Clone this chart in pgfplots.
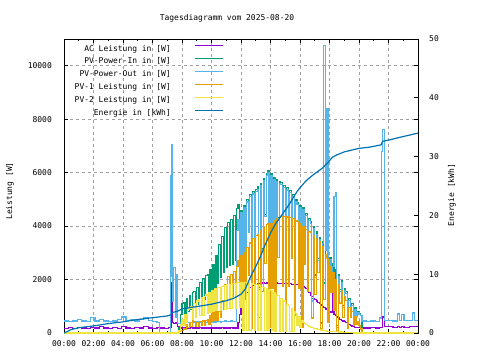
\documentclass[border=0pt]{standalone}
\usepackage{pgfplots}
\pgfplotsset{compat=1.18}
\usepackage{pgfplotstable}
\usepackage{fontspec}
\setmainfont{DejaVu Sans Mono}
\definecolor{cAC}{HTML}{9400D3}
\definecolor{cIN}{HTML}{009E73}
\definecolor{cOUT}{HTML}{56B4E9}
\definecolor{cPVa}{HTML}{E69F00}
\definecolor{cPVb}{HTML}{F0E442}
\definecolor{cE}{HTML}{0072B2}
\definecolor{cGrid}{HTML}{A0A0A0}

\pgfplotstableread{
t ac pin pout pv1 pv2
0.0 180 0 450 0 0
0.3 200 0 420 0 0
0.6 180 0 450 0 0
0.9 220 0 500 0 0
1.2 190 0 450 0 0
1.5 180 0 420 0 0
1.8 200 0 580 0 0
2.1 190 0 450 0 0
2.4 230 0 500 0 0
2.7 190 0 450 0 0
3.0 180 0 420 0 0
3.3 200 0 450 0 0
3.6 180 0 520 0 0
3.9 230 0 600 0 0
4.2 190 0 460 0 0
4.5 180 0 500 0 0
4.8 200 0 450 0 0
5.1 190 0 500 0 0
5.4 230 0 560 0 0
5.7 190 0 460 0 0
6.0 180 0 420 0 0
6.3 200 0 380 0 0
6.5 190 0 0 0 0
6.8 180 0 0 0 0
7.1 200 0 0 0 0
7.2 200 0 2100 0 0
7.25 300 0 5900 0 0
7.3 1900 0 7050 0 0
7.35 400 0 1200 0 0
7.45 350 0 2450 0 0
7.55 400 0 600 0 0
7.6 350 0 2200 0 0
7.7 250 0 350 0 0
7.8 200 200 350 50 100
7.9 190 700 380 80 300
8.0 200 1100 400 100 500
8.1 190 1150 420 150 300
8.2 190 750 400 120 700
8.3 200 1300 420 300 400
8.4 190 810 400 210 870
8.5 190 1400 380 400 930
8.6 200 870 400 250 1000
8.7 190 1500 420 450 525
8.8 190 1550 400 420 1100
8.9 200 970 400 240 575
9.0 190 1700 420 400 1200
9.1 190 1070 400 250 1240
9.2 200 1880 380 430 640
9.3 190 1180 400 270 1320
9.4 190 2050 420 450 675
9.5 200 1260 400 275 1380
9.6 190 2150 400 480 1420
9.7 190 2200 420 500 725
9.8 200 1380 400 330 1500
9.9 190 2380 420 650 775
10.0 190 1470 400 420 1600
10.1 200 2550 420 750 810
10.2 190 1620 400 470 1650
10.3 190 2900 450 800 835
10.4 200 1860 420 470 1690
10.5 190 3300 420 800 1700
10.6 190 2070 400 570 860
10.7 200 3600 420 1200 1740
10.8 190 2280 420 900 1760
10.9 190 3950 450 1800 890
11.0 200 2460 420 1200 1800
11.1 190 4150 420 2100 905
11.2 190 2520 420 1290 1820
11.3 200 4250 450 2200 915
11.4 190 2580 420 1350 1840
11.5 190 4400 420 2300 1850
11.6 200 2700 430 1440 930
11.7 190 4650 3850 2500 1880
11.8 400 4800 4230 2700 1890
11.9 700 2900 1500 1700 950
12.0 900 4580 4500 2900 1900
12.1 1100 1460 1380 440 95
12.2 1300 4780 4700 3000 1900
12.3 1400 2720 2640 1240 1890
12.4 1500 4980 4900 3200 95
12.5 1600 3830 3750 2145 1880
12.6 1700 5180 5100 3370 95
12.7 1750 575 515 170 1850
12.8 1780 5280 5200 3550 1830
12.9 1800 2970 2890 1440 90
13.0 1820 5380 5300 3650 1800
13.1 1850 5460 5380 3700 90
13.2 1850 1715 1635 570 1760
13.3 1860 5580 5500 3850 85
13.4 1870 3160 3080 1560 1710
13.5 1870 5780 5700 3950 1700
13.6 1860 4430 4350 2600 85
13.7 1870 5980 5900 4050 1650
13.8 1880 6080 6000 4100 80
13.9 1870 655 595 205 1610
14.0 1860 5980 5900 4110 1600
14.1 1850 3300 3220 1660 80
14.2 1850 5830 5750 4200 1520
14.3 1860 1790 1710 640 75
14.4 1870 5730 5650 4300 1440
14.5 1860 4320 4240 2810 1400
14.6 1850 5680 5600 4340 70
14.7 1850 5630 5550 4350 1300
14.8 1840 3105 3025 1740 60
14.9 1850 5530 5450 4350 1200
15.0 1840 600 540 220 60
15.1 1850 5430 5350 4340 1080
15.2 1840 2995 2915 1730 1020
15.3 1840 5330 5250 4320 50
15.4 1830 3940 3860 2800 920
15.5 1830 5180 5100 4280 45
15.6 1820 1580 1500 640 800
15.7 1820 4980 4900 4220 730
15.8 1810 4880 4800 4180 265
15.9 1810 2690 2610 1660 600
16.0 1800 4780 4700 4080 210
16.1 1780 525 465 200 460
16.2 1750 4680 4600 3970 400
16.3 1700 3455 3375 2550 350
16.4 1650 4480 4400 3880 310
16.5 1550 2445 2365 1540 270
16.6 1500 4280 4200 3800 250
16.7 1420 4180 4100 3780 220
16.8 1350 1280 1200 560 200
16.9 1300 3980 3900 3650 180
17.0 1250 2170 2090 1440 170
17.1 1200 3780 3700 3550 150
17.2 1150 2780 2700 2260 130
17.3 1100 3580 3500 3420 120
17.4 1050 400 345 170 110
17.5 1000 3430 3350 3250 100
17.6 950 1870 10750 1240 90
17.7 900 3180 3100 2950 80
17.8 870 3080 8400 2800 70
17.9 830 935 855 400 65
18.0 800 2830 2750 2470 60
18.1 760 2030 1950 1530 55
18.2 1700 2580 2500 2250 50
18.3 680 1400 5100 840 50
18.4 640 2380 5240 2000 45
18.5 600 280 220 95 45
18.6 560 2180 2100 1800 40
18.7 520 1620 1540 1120 40
18.8 480 1980 1900 1600 35
18.9 450 1040 960 590 30
19.0 420 1680 1600 1350 25
19.1 380 1560 1480 1230 20
19.2 350 470 405 165 20
19.3 320 1300 1230 970 15
19.4 290 920 850 570 10
19.5 260 1110 1040 790 5
19.6 240 590 520 280 0
19.7 220 940 880 600 0
19.8 210 670 610 330 0
19.9 200 800 750 410 0
20.0 200 740 700 280 0
20.1 190 660 640 150 0
20.2 190 0 450 0 0
20.5 190 0 420 0 0
20.8 200 0 450 0 0
21.1 190 0 430 0 0
21.4 200 0 560 0 0
21.55 200 0 6800 0 0
21.62 600 0 7600 0 0
21.7 230 0 480 0 0
22.0 230 0 470 0 0
22.3 220 0 450 0 0
22.6 230 0 710 0 0
22.75 220 0 480 0 0
22.9 230 0 700 0 0
23.05 220 0 470 0 0
23.4 230 0 460 0 0
23.6 240 0 750 0 0
23.75 230 0 470 0 0
24.0 230 0 470 0 0
}\pdata

\pgfplotstableread{
t e
0 0
0.5 0.6
1 0.9
2 1.2
3 1.6
4 1.9
5 2.3
6 2.6
7 2.9
7.25 3.1
7.35 3.5
7.7 3.7
8 4.1
9 4.5
10 4.9
11 5.5
11.5 5.9
12 6.6
12.3 7.5
12.6 9.3
13 11.3
13.3 12.9
13.6 14.8
14 17.0
14.3 18.4
14.6 19.5
15 20.9
15.3 22.0
15.6 23.3
15.9 24.4
16.2 25.3
16.5 26.1
17 27.1
17.5 28.0
17.9 29.0
18.2 29.9
18.5 30.3
19 30.8
19.5 31.1
20 31.4
20.7 31.6
21.5 32.0
21.6 32.6
22 32.8
22.8 33.3
23.5 33.7
24 34.0
}\edata

\begin{document}
\begin{tikzpicture}[x=1bp,y=1bp,font=\fontsize{8}{9.6}\selectfont]
\path[use as bounding box] (0,0) rectangle (480,360);
\begin{axis}[
  at={(64bp,27bp)}, anchor=south west,
  scale only axis, width=354bp, height=294bp,
  xmin=0, xmax=24, ymin=0, ymax=11000,
  scaled y ticks=false,
  xtick={0,2,...,24},
  xticklabels={00:00,02:00,04:00,06:00,08:00,10:00,12:00,14:00,16:00,18:00,20:00,22:00,00:00},
  minor xtick={1,3,...,23},
  ytick={0,2000,4000,6000,8000,10000},
  yticklabels={0,2000,4000,6000,8000,10000},
  tick align=inside,
  major tick length=4bp, minor tick length=2bp,
  every tick/.style={black, line width=0.8bp},
  axis line style={black, line width=0.8bp},
  xmajorgrids, ymajorgrids,
  major grid style={cGrid, dash pattern=on 3bp off 3bp, line width=0.8bp},
  xticklabel style={inner sep=0pt, yshift=-7.5bp},
  yticklabel style={inner sep=0pt, xshift=-12bp},
  every tick label/.append style={font=\fontsize{8}{9.6}\selectfont},
  legend plot pos=right,
  legend cell align=right,
  legend style={at={(0.452,0.980)}, anchor=north east, draw=none, fill=none,
    inner sep=0pt, row sep=5.4bp, /tikz/column sep=24bp,
    nodes={inner sep=0pt, text height=6bp, text depth=1.5bp},
    font=\fontsize{8}{9.6}\selectfont},
  legend image code/.code={\draw[#1, line width=1.1bp] plot coordinates {(0bp,2.9bp) (28bp,2.9bp)};},
  every axis plot/.append style={line width=1.15bp},
]
\addplot[cAC, const plot] table[x=t, y=ac] {\pdata};
\addlegendentry{AC Leistung in [W]}
\addplot[cIN, const plot] table[x=t, y=pin] {\pdata};
\addlegendentry{PV-Power-In in [W]}
\addplot[cOUT, const plot] table[x=t, y=pout] {\pdata};
\addlegendentry{PV-Power-Out in [W]}
\addplot[cPVa, const plot] table[x=t, y=pv1] {\pdata};
\addlegendentry{PV-1 Leistung in [W]}
\addplot[cPVb, const plot] table[x=t, y=pv2] {\pdata};
\addlegendentry{PV-2 Leistung in [W]}
\addlegendimage{cE}
\addlegendentry{Energie in [kWh]}
\end{axis}
\begin{axis}[
  at={(64bp,27bp)}, anchor=south west,
  scale only axis, width=354bp, height=294bp,
  xmin=0, xmax=24, ymin=0, ymax=50,
  axis x line=none, axis y line*=right,
  ytick={0,10,20,30,40,50},
  yticklabels={0,10,20,30,40,50},
  tick align=inside,
  major tick length=4bp,
  every tick/.style={black, line width=0.8bp},
  axis line style={black, line width=0.8bp},
  yticklabel style={inner sep=0pt, xshift=11bp},
  every tick label/.append style={font=\fontsize{8}{9.6}\selectfont},
]
\addplot[cE, line width=1.2bp] table[x=t, y=e] {\edata};
\end{axis}
\node at (227,342) {Tagesdiagramm vom 2025-08-20};
\node[rotate=90] at (10,169) {Leistung [W]};
\node[rotate=90] at (452,165) {Energie [kWh]};
\end{tikzpicture}
\end{document}
